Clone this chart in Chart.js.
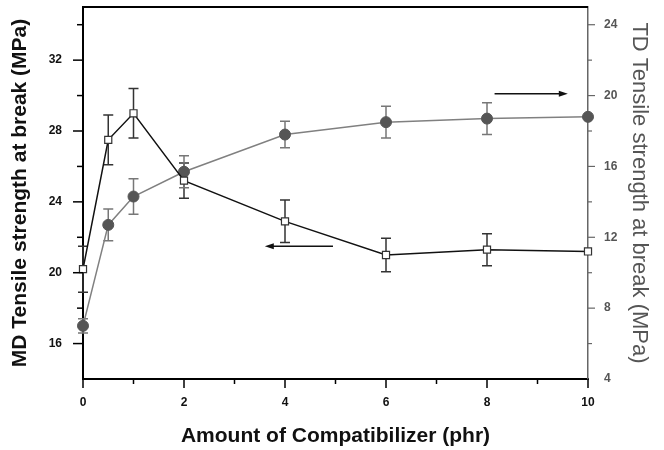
<!DOCTYPE html>
<html>
<head>
<meta charset="utf-8">
<script src="https://cdn.jsdelivr.net/npm/chart.js@4.4.1/dist/chart.umd.min.js"></script>
<style>
  html,body{margin:0;padding:0;background:#fff;}
  #wrap{width:664px;height:450px;}
</style>
</head>
<body>
<div id="wrap"><canvas id="c" width="664" height="450"></canvas></div>
<script>
// ---- data ----
const compat = [0, 0.5, 1, 2, 4, 6, 8, 10];
const mdStrength = [20.2, 27.5, 29.0, 25.2, 22.9, 21.0, 21.3, 21.2];
const mdError = [1.3, 1.4, 1.4, 1.0, 1.2, 0.95, 0.9, 0];
const tdStrength = [7.0, 12.7, 14.3, 15.7, 17.8, 18.5, 18.7, 18.8];
const tdError = [0.4, 0.9, 1.0, 0.9, 0.75, 0.9, 0.9, 0];
const xTickLabels = [0, 2, 4, 6, 8, 10];
const mdTickLabels = [16, 20, 24, 28, 32];
const tdTickLabels = [4, 8, 12, 16, 20, 24];
// arrows (data units): which axis, from x0 to x1 (head at x1), at y
const arrows = [
  {axis: 'y2', x0: 8.15, x1: 9.6, y: 20.1},
  {axis: 'y', x0: 4.95, x1: 3.6, y: 21.5}
];

const FONT = '"Liberation Sans", Arial, Helvetica, sans-serif';
const GRAY = '#666';

const errorBarPlugin = {
  id: 'errorBars',
  beforeDatasetsDraw(chart) {
    const ctx = chart.ctx;
    const x = chart.scales.x;
    chart.data.datasets.forEach((ds) => {
      const ys = chart.scales[ds.yAxisID];
      ctx.save();
      ctx.strokeStyle = ds.errColor;
      ctx.lineWidth = 1.5;
      ds.data.forEach((p, i) => {
        const e = ds.errors[i];
        if (!e) return;
        const px = x.getPixelForValue(p.x);
        const top = ys.getPixelForValue(p.y + e);
        const bot = ys.getPixelForValue(p.y - e);
        ctx.beginPath();
        ctx.moveTo(px, top); ctx.lineTo(px, bot);
        ctx.moveTo(px - 5, top); ctx.lineTo(px + 5, top);
        ctx.moveTo(px - 5, bot); ctx.lineTo(px + 5, bot);
        ctx.stroke();
      });
      ctx.restore();
    });
  }
};

const decorPlugin = {
  id: 'decor',
  afterDraw(chart) {
    const {ctx, chartArea: a} = chart;
    const {x, y, y2} = chart.scales;
    ctx.save();
    // top frame
    ctx.strokeStyle = '#000';
    ctx.lineWidth = 2;
    ctx.beginPath(); ctx.moveTo(a.left - 1, a.top); ctx.lineTo(a.right, a.top); ctx.stroke();
    // x ticks
    ctx.lineWidth = 1.5;
    x.ticks.forEach(t => {
      const px = x.getPixelForValue(t.value);
      const len = xTickLabels.includes(t.value) ? 9 : 5;
      ctx.beginPath(); ctx.moveTo(px, a.bottom); ctx.lineTo(px, a.bottom + len); ctx.stroke();
    });
    // left ticks
    y.ticks.forEach(t => {
      if (t.value === y.min) return;
      const py = y.getPixelForValue(t.value);
      const len = mdTickLabels.includes(t.value) ? 10 : 6;
      ctx.beginPath(); ctx.moveTo(a.left, py); ctx.lineTo(a.left - len, py); ctx.stroke();
    });
    // right ticks
    ctx.strokeStyle = GRAY;
    ctx.lineWidth = 1.2;
    y2.ticks.forEach(t => {
      if (t.value === y2.min) return;
      const py = y2.getPixelForValue(t.value);
      const len = tdTickLabels.includes(t.value) ? 7 : 4;
      ctx.beginPath(); ctx.moveTo(a.right, py); ctx.lineTo(a.right + len, py); ctx.stroke();
    });
    // arrows
    ctx.strokeStyle = '#111';
    ctx.fillStyle = '#111';
    ctx.lineWidth = 1.5;
    arrows.forEach(ar => {
      const ys = chart.scales[ar.axis];
      const x0 = x.getPixelForValue(ar.x0), x1 = x.getPixelForValue(ar.x1);
      const py = ys.getPixelForValue(ar.y);
      const dir = Math.sign(x1 - x0);
      ctx.beginPath(); ctx.moveTo(x0, py); ctx.lineTo(x1 - dir * 6, py); ctx.stroke();
      ctx.beginPath();
      ctx.moveTo(x1, py);
      ctx.lineTo(x1 - dir * 9, py - 3);
      ctx.lineTo(x1 - dir * 9, py + 3);
      ctx.closePath(); ctx.fill();
    });
    ctx.restore();
  }
};

const toPts = (xs, ys) => xs.map((v, i) => ({x: v, y: ys[i]}));
const noPad = s => { s.paddingTop = 0; s.paddingBottom = 0; s.paddingLeft = 0; s.paddingRight = 0; };

new Chart(document.getElementById('c'), {
  type: 'line',
  data: {
    datasets: [
      {
        label: 'MD',
        data: toPts(compat, mdStrength),
        errors: mdError,
        errColor: '#333',
        yAxisID: 'y',
        borderColor: '#111',
        borderWidth: 1.5,
        pointStyle: 'rect',
        pointRadius: 5,
        pointBackgroundColor: '#fff',
        pointBorderColor: '#333',
        pointBorderWidth: 1.2,
        tension: 0,
        clip: false
      },
      {
        label: 'TD',
        data: toPts(compat, tdStrength),
        errors: tdError,
        errColor: '#777',
        yAxisID: 'y2',
        borderColor: '#808080',
        borderWidth: 1.5,
        pointStyle: 'circle',
        pointRadius: 5.5,
        pointBackgroundColor: '#555',
        pointBorderColor: '#555',
        pointBorderWidth: 1,
        tension: 0,
        clip: false
      }
    ]
  },
  options: {
    responsive: false,
    animation: false,
    events: [],
    layout: {autoPadding: false, padding: {top: 7, left: 0, right: 0, bottom: 0}},
    plugins: {legend: {display: false}, tooltip: {enabled: false}},
    scales: {
      x: {
        type: 'linear',
        position: 'bottom',
        min: 0, max: 10,
        afterFit: s => { s.height = 71; noPad(s); },
        ticks: {
          stepSize: 1,
          autoSkip: false,
          maxRotation: 0,
          padding: 16,
          color: '#111',
          font: {family: FONT, size: 12, weight: 'bold'},
          callback: v => xTickLabels.includes(v) ? String(v) : ''
        },
        grid: {display: false, drawTicks: false},
        border: {display: true, color: '#000', width: 2},
        title: {
          display: true,
          text: 'Amount of Compatibilizer (phr)',
          color: '#111',
          font: {family: FONT, size: 21, weight: 'bold'},
          padding: {top: 0, bottom: 1}
        }
      },
      y: {
        type: 'linear',
        position: 'left',
        min: 14, max: 35,
        afterFit: s => { s.width = 83; noPad(s); },
        afterBuildTicks: s => { s.ticks = s.ticks.filter(t => t.value % 2 === 0); },
        ticks: {
          stepSize: 2,
          autoSkip: false,
          padding: 21,
          color: '#111',
          font: {family: FONT, size: 12, weight: 'bold'},
          callback: v => mdTickLabels.includes(v) ? String(v) : ''
        },
        grid: {display: false, drawTicks: false},
        border: {display: true, color: '#000', width: 2},
        title: {
          display: true,
          text: 'MD Tensile strength at break (MPa)',
          color: '#111',
          font: {family: FONT, size: 21, weight: 'bold'},
          padding: {top: 8, bottom: 0}
        }
      },
      y2: {
        type: 'linear',
        position: 'right',
        min: 4, max: 25,
        afterFit: s => { s.width = 76; noPad(s); },
        afterBuildTicks: s => { s.ticks = s.ticks.filter(t => t.value % 2 === 0); },
        ticks: {
          stepSize: 2,
          autoSkip: false,
          padding: 16,
          color: '#555',
          font: {family: FONT, size: 12, weight: 'bold'},
          callback: v => tdTickLabels.includes(v) ? String(v) : ''
        },
        grid: {display: false, drawTicks: false},
        border: {display: true, color: GRAY, width: 1.5},
        title: {
          display: true,
          text: 'TD Tensile strength at break (MPa)',
          color: '#555',
          font: {family: FONT, size: 22, weight: 'normal'},
          padding: {top: 12, bottom: 0}
        }
      }
    }
  },
  plugins: [errorBarPlugin, decorPlugin]
});
</script>
</body>
</html>
